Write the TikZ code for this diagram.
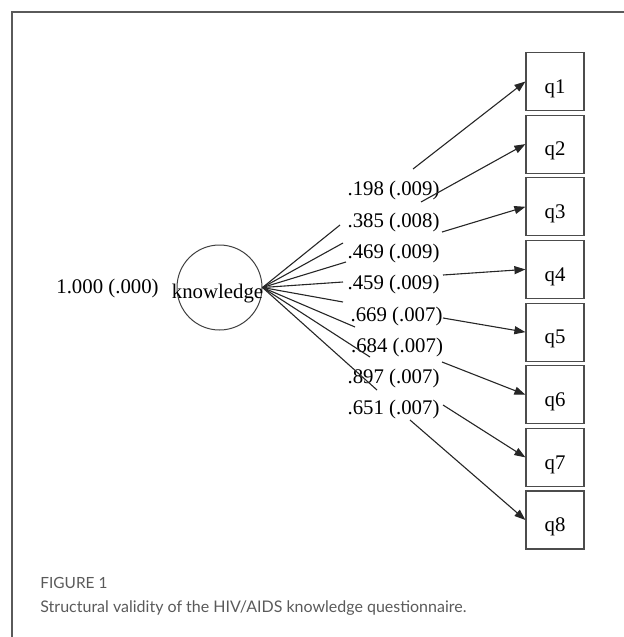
\documentclass[tikz,border=0pt]{standalone}
\usepackage{fontspec}
\setmainfont{Liberation Serif}
\newfontfamily\capfont{Lato}
\usetikzlibrary{arrows.meta}
\definecolor{capgrey}{RGB}{90,90,90}

\begin{document}
\begin{tikzpicture}[x=0.5pt, y=-0.5pt]
% Styles
\tikzset{
    item/.style={draw=black!70, line width=0.6pt, minimum width=29pt, minimum height=29pt, inner sep=0pt, text height=11.8pt, text depth=0pt, font=\fontsize{10.4}{12}\selectfont},
    latent/.style={draw=black!75, line width=0.5pt, circle, minimum size=42.5pt, inner sep=0pt},
    load/.style={inner sep=0pt, anchor=base, font=\fontsize{10.4}{12}\selectfont},
    link/.style={draw=black!85, line width=0.55pt},
    arr/.style={link, -{Triangle[length=5.5pt, width=4pt]}},
    frame/.style={draw=capgrey, line width=0.6pt}
}
\useasboundingbox (0,0) rectangle (624,637);

% Frame
\draw[frame] (12,637) -- (12,12) -- (624,12);

% Nodes
\node[latent] (KN) at (219.5, 287.5) {};
\node[load] (KNt) at (217.5, 298) {knowledge};
\node[load] (VAR) at (107.5, 293) {1.000 (.000)};

\node[item] (Q1) at (555, 81.5) {q1};
\node[item] (Q2) at (555, 144.1) {q2};
\node[item] (Q3) at (555, 206.8) {q3};
\node[item] (Q4) at (555, 269.4) {q4};
\node[item] (Q5) at (555, 332.1) {q5};
\node[item] (Q6) at (555, 394.7) {q6};
\node[item] (Q7) at (555, 457.4) {q7};
\node[item] (Q8) at (555, 520) {q8};

% Loadings
\node[load] (L1) at (393.5, 195) {.198 (.009)};
\node[load] (L2) at (393.5, 227) {.385 (.008)};
\node[load] (L3) at (393.5, 258) {.469 (.009)};
\node[load] (L4) at (393.5, 289) {.459 (.009)};
\node[load] (L5) at (396.5, 321) {.669 (.007)};
\node[load] (L6) at (397, 352) {.684 (.007)};
\node[load] (L7) at (393.5, 383) {.897 (.007)};
\node[load] (L8) at (393.5, 414) {.651 (.007)};

% Edge breaks
\coordinate (A1) at (340, 225); \coordinate (B1) at (413, 169);
\coordinate (A2) at (343, 243); \coordinate (B2) at (421, 202);
\coordinate (A3) at (346, 262); \coordinate (B3) at (442, 232);
\coordinate (A4) at (343, 282); \coordinate (B4) at (443, 275);
\coordinate (A5) at (343, 302); \coordinate (B5) at (443, 318);
\coordinate (A6) at (355, 327); \coordinate (B6) at (442, 362);
\coordinate (A7) at (370, 357); \coordinate (B7) at (443, 405);
\coordinate (A8) at (377, 390); \coordinate (B8) at (410, 420);

% Connections
\draw[link] (KN.east) -- (A1);
\draw[arr] (B1) -- (Q1.west);
\draw[link] (KN.east) -- (A2);
\draw[arr] (B2) -- (Q2.west);
\draw[link] (KN.east) -- (A3);
\draw[arr] (B3) -- (Q3.west);
\draw[link] (KN.east) -- (A4);
\draw[arr] (B4) -- (Q4.west);
\draw[link] (KN.east) -- (A5);
\draw[arr] (B5) -- (Q5.west);
\draw[link] (KN.east) -- (A6);
\draw[arr] (B6) -- (Q6.west);
\draw[link] (KN.east) -- (A7);
\draw[arr] (B7) -- (Q7.west);
\draw[link] (KN.east) -- (A8);
\draw[arr] (B8) -- (Q8.west);

% Caption
\node[anchor=base west, inner sep=0pt, text=capgrey, font=\capfont\fontsize{7.7}{9}\selectfont] (FIG) at (40, 588) {FIGURE 1};
\node[anchor=base west, inner sep=0pt, text=capgrey, font=\capfont\fontsize{8}{10}\selectfont] (CAP) at (40, 612) {Structural validity of the HIV/AIDS knowledge questionnaire.};
\end{tikzpicture}
\end{document}
